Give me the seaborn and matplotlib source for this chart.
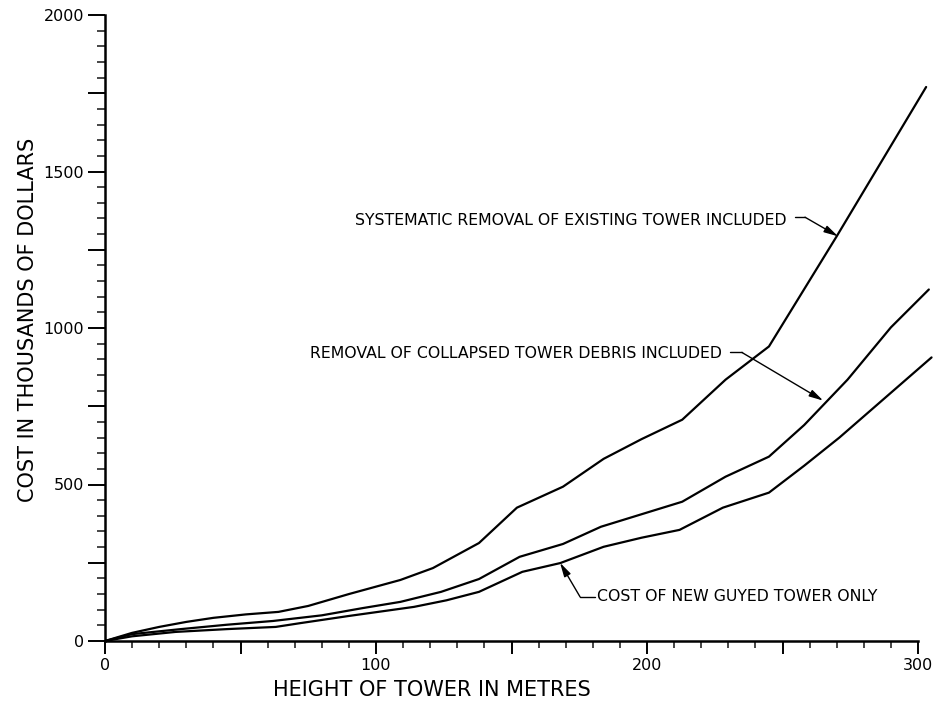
import matplotlib
matplotlib.use("Agg")
import matplotlib.pyplot as plt
from matplotlib.ticker import MultipleLocator, FuncFormatter
import numpy as np
import pandas as pd
import seaborn as sns

# Tower height (m) and cost (thousands of dollars) for each scenario
height_systematic = [0, 10, 20, 30, 40, 52, 64, 75, 90, 109, 121, 138, 152, 169,
                     184, 198, 213, 229, 245, 270, 303]
cost_systematic = [0, 26, 45, 61, 74, 85, 93, 112, 150, 195, 233, 313, 426, 493,
                   582, 645, 707, 835, 941, 1293, 1770]

height_debris = [0, 10, 28, 45, 62, 80, 95, 109, 124, 138, 153, 169, 183, 198,
                 213, 229, 245, 258, 274, 290, 304]
cost_debris = [0, 22, 38, 52, 64, 82, 105, 125, 157, 198, 269, 310, 365, 405,
               445, 525, 589, 690, 835, 1002, 1123]

height_new = [0, 10, 26, 45, 63, 72, 90, 114, 126, 138, 154, 168, 184, 198,
              212, 228, 245, 258, 271, 288, 305]
cost_new = [0, 15, 29, 38, 45, 57, 80, 109, 130, 157, 221, 249, 301, 330,
            355, 426, 474, 560, 650, 778, 906]

series_names = [
    "SYSTEMATIC REMOVAL OF EXISTING TOWER INCLUDED",
    "REMOVAL OF COLLAPSED TOWER DEBRIS INCLUDED",
    "COST OF NEW GUYED TOWER ONLY",
]

frames = []
for name, h, c in zip(series_names,
                      [height_systematic, height_debris, height_new],
                      [cost_systematic, cost_debris, cost_new]):
    frames.append(pd.DataFrame({"height": h, "cost": c, "series": name}))
df = pd.concat(frames, ignore_index=True)

sns.set_theme(style="ticks")
plt.rcParams["font.family"] = ["DejaVu Sans"]
plt.rcParams["text.color"] = "black"
plt.rcParams["axes.labelcolor"] = "black"

W, H = 936, 702
fig = plt.figure(figsize=(W / 100, H / 100), dpi=100)
x0_px, x300_px = 105, 918
y0_px, y2000_px = 641, 15
xmax = 306
ax_w = (x300_px - x0_px) / 300 * xmax
ax = fig.add_axes([x0_px / W, (H - y0_px) / H, ax_w / W, (y0_px - y2000_px) / H])

sns.lineplot(data=df, x="height", y="cost", units="series", estimator=None,
             sort=False, color="black", linewidth=1.6, ax=ax, legend=False)

ax.set_xlim(0, xmax)
ax.set_ylim(0, 2000)
for s in ("top", "right"):
    ax.spines[s].set_visible(False)
ax.spines["bottom"].set_bounds(0, 300)
ax.spines["left"].set_bounds(0, 2000)
for s in ("bottom", "left"):
    ax.spines[s].set_linewidth(1.8)
    ax.spines[s].set_color("black")

ax.xaxis.set_major_locator(MultipleLocator(50))
ax.xaxis.set_minor_locator(MultipleLocator(10))
ax.yaxis.set_major_locator(MultipleLocator(250))
ax.yaxis.set_minor_locator(MultipleLocator(50))
ax.xaxis.set_major_formatter(FuncFormatter(lambda v, p: f"{int(v)}" if v % 100 == 0 else ""))
ax.yaxis.set_major_formatter(FuncFormatter(lambda v, p: f"{int(v)}" if v % 500 == 0 else ""))
ax.tick_params(axis="x", which="major", length=9.5, width=1.4, direction="out",
               labelsize=11.5, pad=3, colors="black")
ax.tick_params(axis="x", which="minor", length=5, width=1.2, direction="out")
ax.tick_params(axis="y", which="major", length=12, width=1.4, direction="out",
               labelsize=11.5, pad=3, colors="black")
ax.tick_params(axis="y", which="minor", length=5.5, width=1.2, direction="out")

ax.set_xlabel("HEIGHT OF TOWER IN METRES", fontsize=15)
ax.set_ylabel("COST IN THOUSANDS OF DOLLARS", fontsize=15)
ax.xaxis.set_label_coords((432 - x0_px) / ax_w, (y0_px - 690) / (y0_px - y2000_px))
ax.xaxis.label.set_va("center")
ax.yaxis.set_label_coords((28 - x0_px) / ax_w, (y0_px - 320) / (y0_px - y2000_px))
ax.yaxis.label.set_va("center")
ax.set_facecolor("white")
fig.patch.set_facecolor("white")

arrow = dict(arrowstyle="-|>,head_length=0.7,head_width=0.18", color="black",
             lw=1.0, shrinkA=0, shrinkB=0)
label_kw = dict(fontsize=11.35, va="center", ha="left", color="black")

# Leader for the systematic-removal curve
ax.text(92.3, 1344, series_names[0], **label_kw)
ax.plot([254.6, 258.3], [1354, 1354], color="black", lw=1.0)
ax.annotate("", xy=(270.5, 1293), xytext=(258.3, 1354), arrowprops=arrow)

# Leader for the debris-removal curve
ax.text(75.6, 918, series_names[1], **label_kw)
ax.plot([230.6, 235.0], [922, 922], color="black", lw=1.0)
ax.annotate("", xy=(265, 768), xytext=(235.0, 922), arrowprops=arrow)

# Leader for the new-tower curve
ax.text(181.5, 141, series_names[2], **label_kw)
ax.plot([175.3, 180.8], [141, 141], color="black", lw=1.0)
ax.annotate("", xy=(167.9, 250), xytext=(175.3, 141), arrowprops=arrow)

fig.savefig("out.png", dpi=100, facecolor="white")
